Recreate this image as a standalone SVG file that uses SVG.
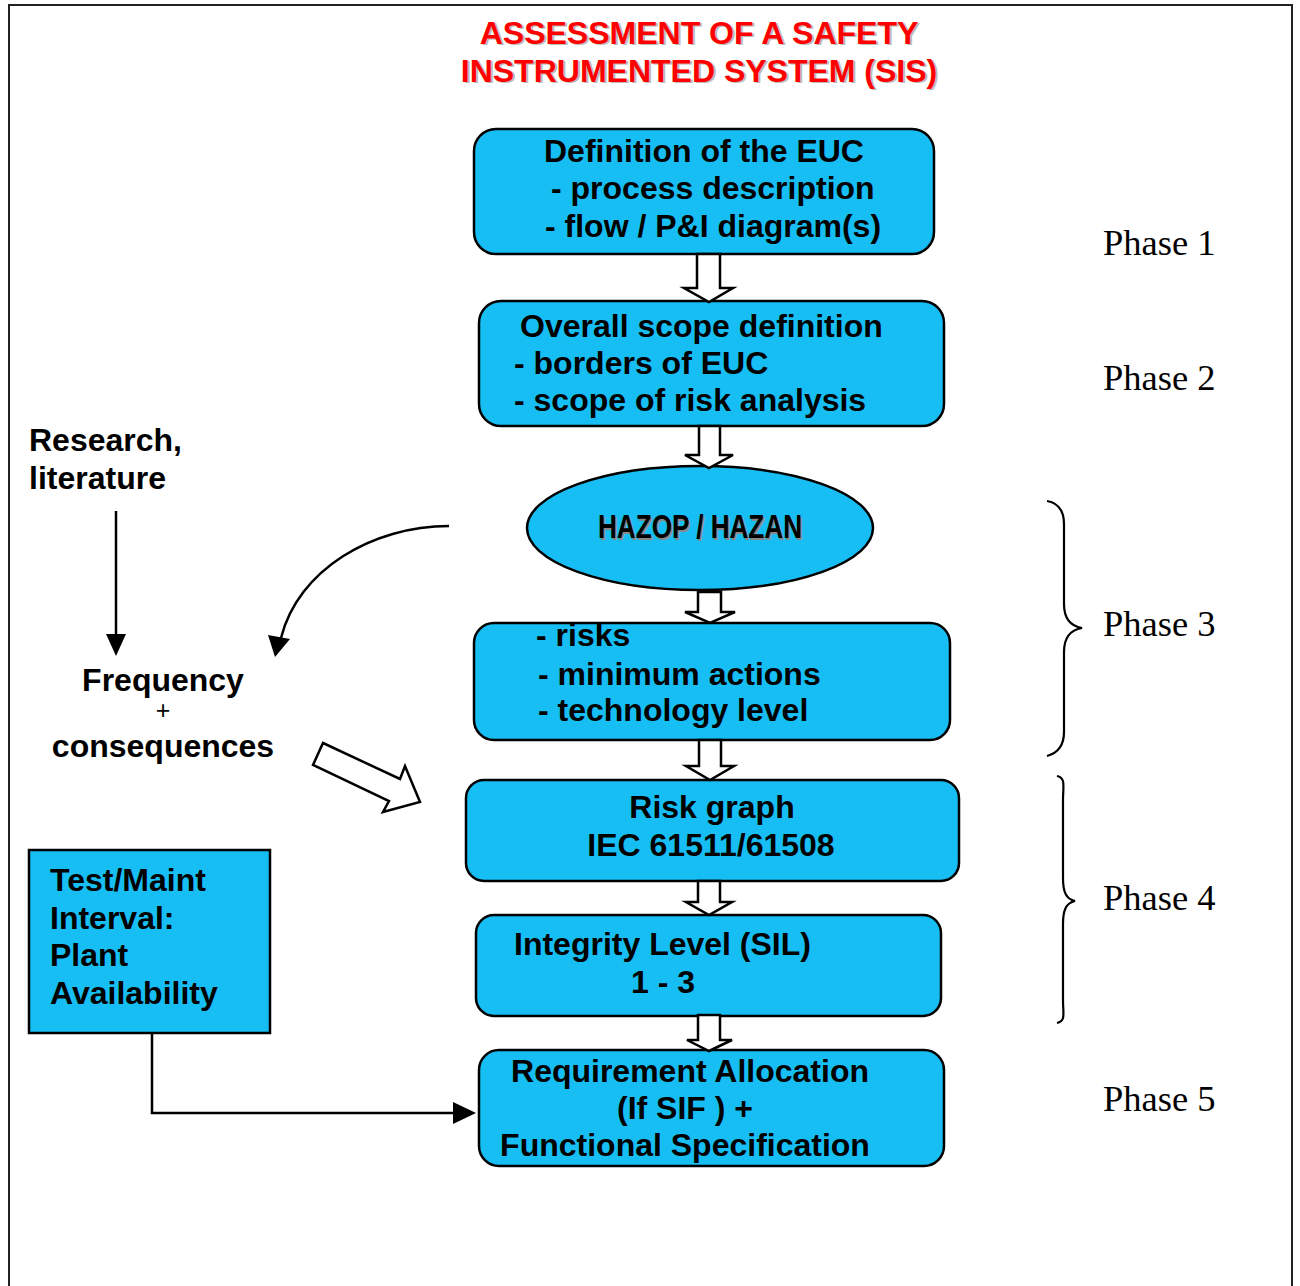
<svg xmlns="http://www.w3.org/2000/svg" width="1300" height="1286" viewBox="0 0 1300 1286">
  <defs>
    <style>
      .box { fill: #17BEF3; stroke: #000; stroke-width: 2.5; }
      .t { font-family: "Liberation Sans", Arial, sans-serif; font-weight: bold; font-size: 32px; fill: #000; }
      .mid { text-anchor: middle; }
      .title { font-family: "Liberation Sans", Arial, sans-serif; font-weight: bold; font-size: 32px; text-anchor: middle; }
      .phase { font-family: "Liberation Serif", "Times New Roman", serif; font-size: 36.5px; fill: #000; }
      .hollow { fill: #fff; stroke: #000; stroke-width: 2.5; stroke-linejoin: miter; }
      .line { fill: none; stroke: #000; stroke-width: 2.5; }
      .brace { fill: none; stroke: #000; stroke-width: 2.2; }
      .hz { font-family: "Liberation Sans", Arial, sans-serif; font-weight: bold; font-size: 33px; }
    </style>
  </defs>

  <rect width="1300" height="1286" fill="#fff"/>

  <!-- page frame, open at the bottom -->
  <path d="M9,1286 V5 H1292 V1286" fill="none" stroke="#222" stroke-width="2"/>

  <!-- heading with drop shadow -->
  <g id="title">
    <text class="title" x="701" y="45" fill="#bbb">ASSESSMENT OF A SAFETY</text>
    <text class="title" x="701" y="83" fill="#bbb">INSTRUMENTED SYSTEM (SIS)</text>
    <text class="title" x="699" y="44" fill="#FF0000">ASSESSMENT OF A SAFETY</text>
    <text class="title" x="699" y="82" fill="#FF0000">INSTRUMENTED SYSTEM (SIS)</text>
  </g>

  <!-- flow nodes -->
  <g id="euc">
    <rect class="box" x="474" y="129" width="460" height="125" rx="22"/>
    <text class="t" x="544" y="162">Definition of the EUC</text>
    <text class="t" x="551" y="199">- process description</text>
    <text class="t" x="545" y="237">- flow / P&amp;I diagram(s)</text>
  </g>

  <g id="scope">
    <rect class="box" x="479" y="301" width="465" height="125" rx="22"/>
    <text class="t" x="520" y="337">Overall scope definition</text>
    <text class="t" x="514" y="374">- borders of EUC</text>
    <text class="t" x="514" y="411">- scope of risk analysis</text>
  </g>

  <g id="hazop">
    <ellipse class="box" cx="700" cy="528" rx="173" ry="62"/>
    <text class="hz" x="599.5" y="539.5" fill="#888" textLength="204" lengthAdjust="spacingAndGlyphs">HAZOP / HAZAN</text>
    <text class="hz" x="598" y="538" fill="#000" textLength="204" lengthAdjust="spacingAndGlyphs">HAZOP / HAZAN</text>
  </g>

  <g id="risks">
    <rect class="box" x="474" y="623" width="476" height="117" rx="20"/>
    <text class="t" x="536" y="646">- risks</text>
    <text class="t" x="538" y="685">- minimum actions</text>
    <text class="t" x="538" y="721">- technology level</text>
  </g>

  <g id="riskgraph">
    <rect class="box" x="466" y="780" width="493" height="101" rx="18"/>
    <text class="t mid" x="712" y="818">Risk graph</text>
    <text class="t mid" x="711" y="856">IEC 61511/61508</text>
  </g>

  <g id="sil">
    <rect class="box" x="476" y="915" width="465" height="101" rx="18"/>
    <text class="t" x="514" y="955">Integrity Level (SIL)</text>
    <text class="t" x="631" y="993">1 - 3</text>
  </g>

  <g id="allocation">
    <rect class="box" x="479" y="1050" width="465" height="116" rx="20"/>
    <text class="t mid" x="690" y="1082">Requirement Allocation</text>
    <text class="t mid" x="685" y="1119">(If SIF ) +</text>
    <text class="t mid" x="685" y="1156">Functional Specification</text>
  </g>

  <g id="testmaint">
    <rect class="box" x="29" y="850" width="241" height="183"/>
    <text class="t" x="50" y="891">Test/Maint</text>
    <text class="t" x="50" y="929">Interval:</text>
    <text class="t" x="50" y="966">Plant</text>
    <text class="t" x="50" y="1004">Availability</text>
  </g>

  <g id="research">
    <text class="t" x="29" y="451">Research,</text>
    <text class="t" x="29" y="489">literature</text>
  </g>

  <g id="frequency">
    <text class="t mid" x="163" y="691">Frequency</text>
    <text x="163" y="719" font-family="'Liberation Sans', Arial, sans-serif" font-size="25" text-anchor="middle">+</text>
    <text class="t mid" x="163" y="757">consequences</text>
  </g>

  <!-- phase labels and braces -->
  <g id="phases">
    <text class="phase" x="1103" y="255">Phase 1</text>
    <text class="phase" x="1103" y="390">Phase 2</text>
    <text class="phase" x="1103" y="636">Phase 3</text>
    <text class="phase" x="1103" y="910">Phase 4</text>
    <text class="phase" x="1103" y="1111">Phase 5</text>
    <path class="brace" d="M1047,501 C1058,503 1064,510 1064,524 V604 C1064,618 1070,626 1082,628 C1070,630 1064,638 1064,652 V732 C1064,746 1058,753 1047,756"/>
    <path class="brace" d="M1057,776 C1066,778 1063,786 1063,800 V878 C1063,892 1066,899 1075,901 C1066,903 1063,910 1063,924 V1000 C1063,1014 1066,1021 1057,1023"/>
  </g>

  <!-- connectors -->
  <g id="connectors">
    <!-- block arrows between stages -->
    <polygon class="hollow" points="697,254 720,254 720,288 733,288 709,302 684,288 697,288"/>
    <polygon class="hollow" points="699,426 720,426 720,455 733,455 709,468 685,455 699,455"/>
    <polygon class="hollow" points="698,592 721,592 721,612 735,612 710,623 685,612 698,612"/>
    <polygon class="hollow" points="699,740 721,740 721,766 734,766 710,780 686,766 699,766"/>
    <polygon class="hollow" points="698,881 720,881 720,902 732,902 709,915 686,902 698,902"/>
    <polygon class="hollow" points="698,1015 720,1015 720,1040 732,1040 709,1051 687,1040 698,1040"/>
    <!-- diagonal block arrow into the risk graph -->
    <polygon class="hollow" points="323,743 400,779 405,766 420,802 383,812 389,801 313,765"/>
    <!-- research to frequency -->
    <line class="line" x1="116" y1="511" x2="116" y2="636"/>
    <path d="M116,656 L106,634 L126,634 Z" fill="#000"/>
    <!-- curved arrow from HAZOP -->
    <path class="line" d="M449,526 C372,526 298,570 281,638"/>
    <path d="M275,657 L268,635 L290,639 Z" fill="#000"/>
    <!-- test/maint interval to allocation -->
    <path class="line" d="M152,1033 V1113 H455"/>
    <path d="M476,1113 L453,1102 L453,1124 Z" fill="#000"/>
  </g>
</svg>
